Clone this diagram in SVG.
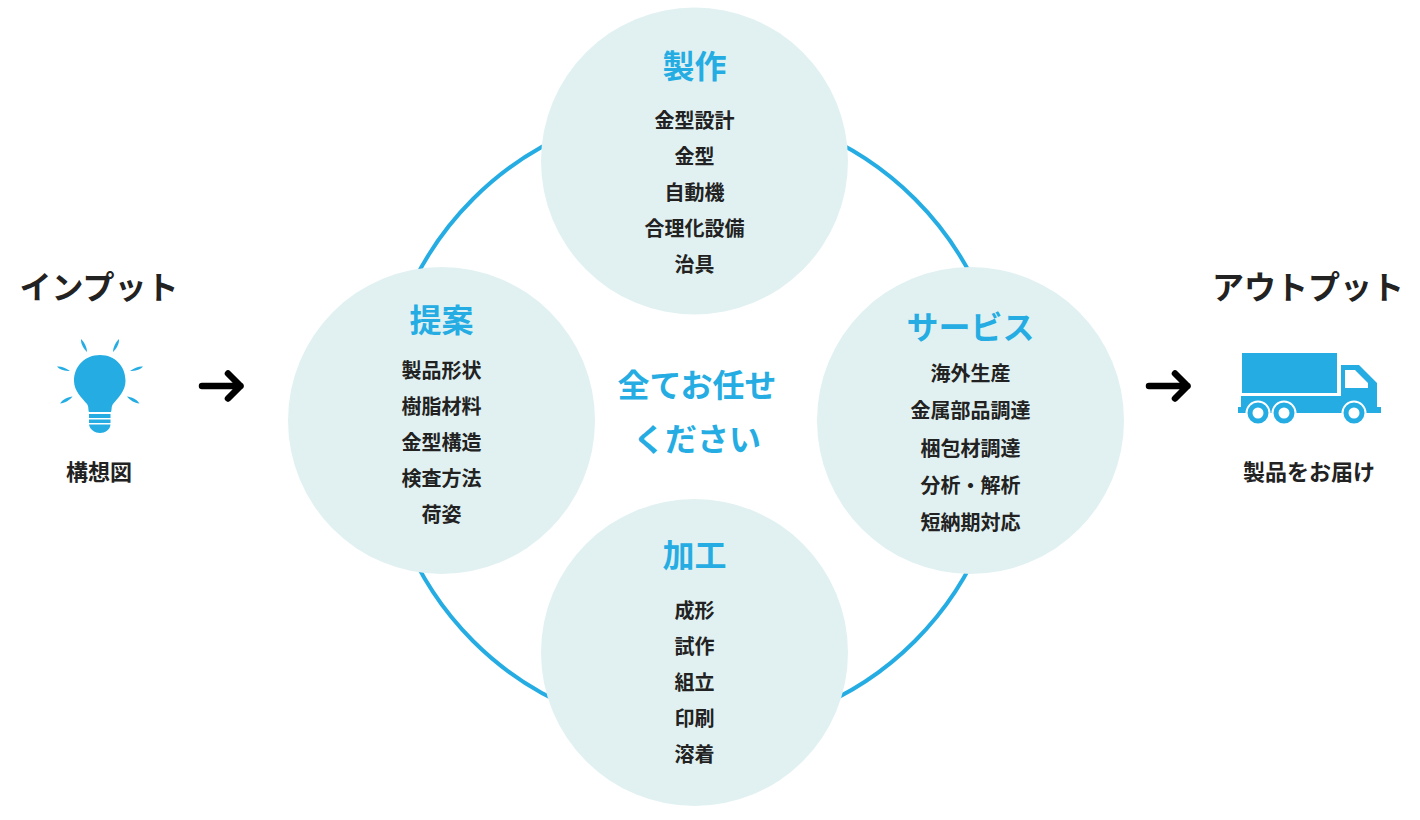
<svg xmlns="http://www.w3.org/2000/svg" width="1420" height="820" viewBox="0 0 1420 820">
<style>
text{font-family:"Noto Sans CJK JP","Noto Sans CJK SC",sans-serif;text-anchor:middle}
.item{font-size:20px;font-weight:700;fill:#222}
.small{font-size:22px;font-weight:700;fill:#222}
.head{font-size:32px;font-weight:700;fill:#25ade3}
.center{font-size:32px;font-weight:700;fill:#25ade3}
.side{font-size:32px;font-weight:700;fill:#222}
.bub{fill:#e1f1f1}
.blue{fill:#25ade3}
.arr{fill:none;stroke:#000;stroke-width:6.500px;stroke-linecap:round;stroke-linejoin:round}
</style>
<rect width="1420" height="820" fill="#fff"/>
<g id="connectors">
<circle cx="694" cy="420" r="312.500" fill="none" stroke="#25ade3" stroke-width="4"/>
<path class="arr" d="M202 386H240.500M228 373.500L240.500 386L228 398.500"/>
<path class="arr" d="M1149 386H1187.500M1175 373.500L1187.500 386L1175 398.500"/>
</g>
<g id="node-seisaku">
<circle class="bub" cx="694.500" cy="161" r="153.500"/>
<text class="head" x="694.500" y="78">製作</text>
<text class="item" x="694.500" y="128">金型設計</text>
<text class="item" x="694.500" y="164">金型</text>
<text class="item" x="694.500" y="200">自動機</text>
<text class="item" x="694.500" y="236">合理化設備</text>
<text class="item" x="694.500" y="272">治具</text>
</g>
<g id="node-teian">
<circle class="bub" cx="441.500" cy="420.500" r="153.500"/>
<text class="head" x="441.500" y="332">提案</text>
<text class="item" x="441.500" y="378">製品形状</text>
<text class="item" x="441.500" y="414">樹脂材料</text>
<text class="item" x="441.500" y="450">金型構造</text>
<text class="item" x="441.500" y="486">検査方法</text>
<text class="item" x="441.500" y="522">荷姿</text>
</g>
<g id="node-service">
<circle class="bub" cx="970.500" cy="420.500" r="153.500"/>
<text class="head" x="970.500" y="339">サービス</text>
<text class="item" x="970.500" y="381">海外生産</text>
<text class="item" x="970.500" y="418">金属部品調達</text>
<text class="item" x="970.500" y="456">梱包材調達</text>
<text class="item" x="970.500" y="493">分析・解析</text>
<text class="item" x="970.500" y="530">短納期対応</text>
</g>
<g id="node-kakou">
<circle class="bub" cx="694.500" cy="652.500" r="153.500"/>
<text class="head" x="694.500" y="567">加工</text>
<text class="item" x="694.500" y="618">成形</text>
<text class="item" x="694.500" y="654">試作</text>
<text class="item" x="694.500" y="690">組立</text>
<text class="item" x="694.500" y="726">印刷</text>
<text class="item" x="694.500" y="762">溶着</text>
</g>
<g id="node-center">
<text class="center" x="697" y="397">全てお任せ</text>
<text class="center" x="697" y="451">ください</text>
</g>
<g id="node-input">
<text class="side" x="99" y="299">インプット</text>
<g class="blue">
<path d="M100 355C85 355 74 366 74 381C74 391 82 398 87 404C89 407 88 410 89 412H111C112 410 111 407 113 404C118 398 125.500 391 125.500 381C125.500 366 115 355 100 355Z"/>
<rect x="89" y="414" width="21.500" height="4"/>
<rect x="89" y="419.500" width="21.500" height="3.500"/>
<path d="M89 424.500H110.500C110 430 105 433 100 433C95 433 90 430 89 424.500Z"/>
<path d="M81 339C84 342 87 347 87 352C84 349 80.500 344 81 339Z"/>
<path d="M119 339C116 342 113 347 113 352C116 349 119.500 344 119 339Z"/>
<path d="M57 366.500C61 366 66 368 70 371C65 371 60 370 57 366.500Z"/>
<path d="M143 366.500C139 366 134 368 130 371C135 371 140 370 143 366.500Z"/>
<path d="M60 403.500C63 399 68 397 72.500 396.500C70 400 65 403 60 403.500Z"/>
<path d="M139.500 403.500C136.500 399 131.500 397 127 396.500C129.500 400 134.500 403 139.500 403.500Z"/>
</g>
<text class="small" x="99" y="480">構想図</text>
</g>
<g id="node-output">
<text class="side" x="1308" y="299">アウトプット</text>
<g class="blue">
<rect x="1242" y="353" width="95" height="40"/>
<path fill-rule="evenodd" d="M1341 365H1359L1377 383V407H1381V413H1238V407H1241V396H1341ZM1345 370V388H1368V383L1355 370Z"/>
</g>
<g fill="#25ade3" stroke="#fff" stroke-width="2">
<circle cx="1258" cy="413" r="11.500"/>
<circle cx="1284" cy="413" r="11.500"/>
<circle cx="1354" cy="413" r="11.500"/>
</g>
<g fill="#fff"><circle cx="1258" cy="413" r="5.500"/><circle cx="1284" cy="413" r="5.500"/><circle cx="1354" cy="413" r="5.500"/></g>
<text class="small" x="1309" y="480">製品をお届け</text>
</g>
</svg>
